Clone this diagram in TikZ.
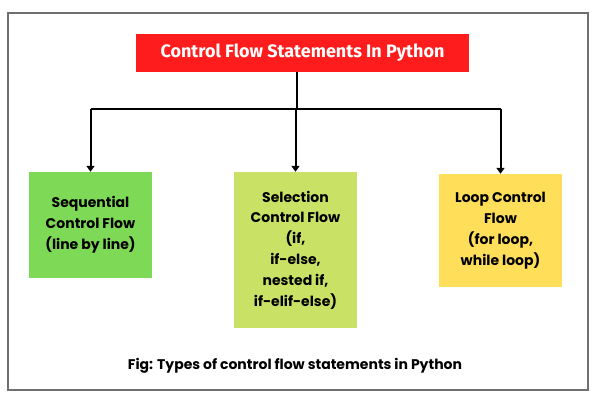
\documentclass[tikz,border=0pt]{standalone}
\usepackage{fontspec}
\setmainfont{Poppins}
\newfontfamily\titlefont{Fira Sans}
\usetikzlibrary{arrows.meta}
\definecolor{titlered}{HTML}{FF1C1C}
\definecolor{seqgreen}{HTML}{7ED957}
\definecolor{selgreen}{HTML}{C9E265}
\definecolor{loopyellow}{HTML}{FFDE59}
\definecolor{framegray}{HTML}{707070}
\begin{document}
\begin{tikzpicture}[x=1pt,y=-1pt]
        \tikzstyle{flowbox}=[minimum width=123pt, inner sep=0pt, align=center, font=\bfseries\fontsize{14}{20.8}\selectfont]
        \tikzstyle{branch}=[line width=2pt, -{Triangle[width=8pt,length=6pt]}]
        \useasboundingbox (0,0) rectangle (597,401);
        \draw[framegray, line width=1.2pt] (8,13) rectangle (588,390);
        \node[fill=titlered, minimum width=333pt, minimum height=38pt, text=white, font=\titlefont\bfseries\fontsize{18}{21}\selectfont] (Title) at (302.5,53) {Control Flow Statements In Python};
        \node[flowbox, fill=seqgreen, minimum height=106pt] (Seq) at (90.5,225) {Sequential\\Control Flow\\(line by line)};
        \node[flowbox, fill=selgreen, minimum height=156pt] (Sel) at (295.5,250) {Selection\\Control Flow\\(if,\\if-else,\\nested if,\\if-elif-else)};
        \node[flowbox, fill=loopyellow, minimum height=113pt] (Loop) at (500.5,230.5) {Loop Control\\Flow\\(for loop,\\while loop)};
        \coordinate (Split) at (297,109);
        % trunk and branches
        \draw[line width=2pt] (Title.south -| Split) -- (Split);
        \draw[line width=2pt] (Seq.north |- Split) -- (Loop.north |- Split);
        \foreach \b in {Seq,Sel,Loop}
            \draw[branch] (\b.north |- Split) -- (\b.north);
        \node[font=\bfseries\fontsize{14}{16}\selectfont] (Caption) at (295,366) {Fig: Types of control flow statements in Python};
      \end{tikzpicture}
\end{document}
